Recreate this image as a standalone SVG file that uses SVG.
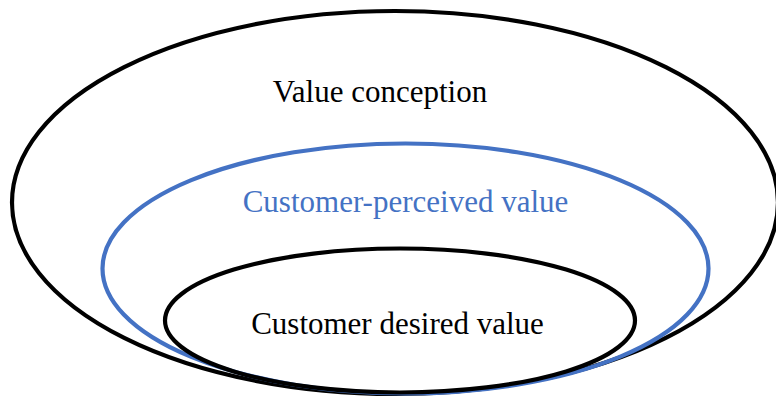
<svg xmlns="http://www.w3.org/2000/svg" width="776" height="398" viewBox="0 0 776 398">
  <style>
    .ring { fill: none; stroke-width: 4.2; }
    .black { stroke: #000000; }
    .blue { stroke: #4472C4; }
    .label { font-family: "Liberation Serif", "Times New Roman", serif; font-size: 31px; text-anchor: middle; }
  </style>
  <rect x="0" y="0" width="776" height="398" fill="#ffffff"/>
  <g id="value-conception">
    <ellipse class="ring black" cx="395" cy="202.5" rx="383" ry="191.5"/>
    <text class="label" x="380" y="102" fill="#000000">Value conception</text>
  </g>
  <g id="customer-perceived-value">
    <ellipse class="ring blue" cx="405.5" cy="268.5" rx="303" ry="125"/>
    <text class="label" x="405.5" y="212" fill="#4472C4">Customer-perceived value</text>
  </g>
  <g id="customer-desired-value">
    <ellipse class="ring black" cx="400" cy="320.5" rx="235" ry="72"/>
    <text class="label" x="397.5" y="334" fill="#000000">Customer desired value</text>
  </g>
  <g id="connectors"/>
</svg>
